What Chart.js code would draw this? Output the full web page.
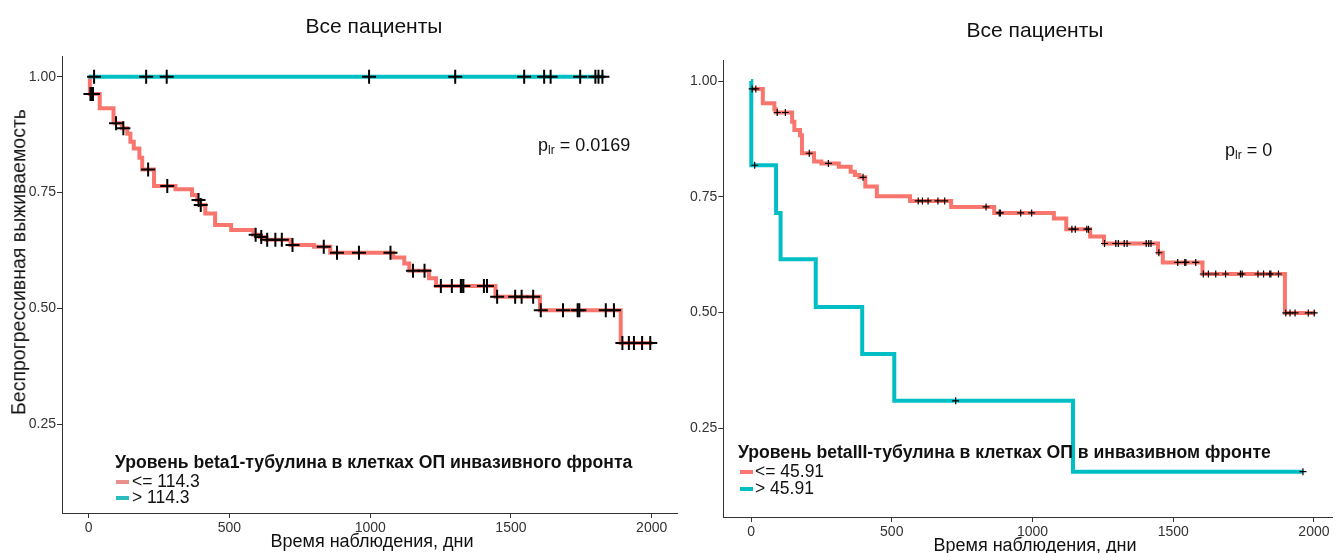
<!DOCTYPE html>
<html>
<head>
<meta charset="utf-8">
<script src="https://cdn.jsdelivr.net/npm/chart.js@4.4.0/dist/chart.umd.min.js"></script>
<style>
body { margin: 0; width: 1338px; height: 553px; overflow: hidden; position: relative; background: #fff;
       font-family: "Liberation Sans", Arial, sans-serif; color: #111; }
canvas { position: absolute; top: 0; }
#left { left: 0; }
#right { left: 686px; }
.t { position: absolute; white-space: nowrap; line-height: 1; }
.title { font-size: 21px; transform: translate(-50%, -50%); }
.xlab { font-size: 18px; transform: translate(-50%, -50%); }
.ylab { font-size: 19.5px; transform: translate(-50%, -50%) rotate(-90deg); }
.pval { font-size: 18px; transform: translateY(-50%); }
.pval sub { font-size: 12px; vertical-align: -3px; }
.lgt { font-size: 17.6px; font-weight: bold; transform: translateY(-50%); }
.lge { font-size: 17.5px; transform: translateY(-50%); }
.key { position: absolute; width: 13px; height: 4px; }
</style>
</head>
<body>
<canvas id="left" width="686" height="553"></canvas>
<canvas id="right" width="652" height="553"></canvas>

<div class="t title" style="left:374px;top:25px">Все пациенты</div>
<div class="t title" style="left:1035px;top:29px">Все пациенты</div>
<div class="t ylab" style="left:19px;top:262px">Беспрогрессивная выживаемость</div>
<div class="t xlab" style="left:372px;top:541px">Время наблюдения, дни</div>
<div class="t xlab" style="left:1035px;top:545px">Время наблюдения, дни</div>
<div class="t pval" style="left:538px;top:146px">p<sub>lr</sub> = 0.0169</div>
<div class="t pval" style="left:1225px;top:151px">p<sub>lr</sub> = 0</div>

<div class="t lgt" style="left:115px;top:463px">Уровень beta1-тубулина в клетках ОП инвазивного фронта</div>
<div class="key" style="left:116px;top:480px;background:#e8908b"></div>
<div class="t lge" style="left:132px;top:482px">&lt;= 114.3</div>
<div class="key" style="left:116px;top:496px;background:#2bbcc0"></div>
<div class="t lge" style="left:132px;top:498px">&gt; 114.3</div>

<div class="t lgt" style="left:738px;top:453px">Уровень betaIII-тубулина в клетках ОП в инвазивном фронте</div>
<div class="key" style="left:740px;top:470px;background:#F8766D"></div>
<div class="t lge" style="left:755px;top:472px">&lt;= 45.91</div>
<div class="key" style="left:740px;top:487px;background:#00BFC4"></div>
<div class="t lge" style="left:755px;top:489px">&gt; 45.91</div>

<script>
// x ticks, y ticks
const xTicks = [0, 500, 1000, 1500, 2000];
const yTicks = [0.25, 0.50, 0.75, 1.00];

// LEFT: beta1-tubulin, steps are [day, survival after that day]
const b1LowSteps = [[0, 1.0], [4, 0.963], [39, 0.932], [88, 0.907], [92, 0.90], [118, 0.889],
  [137, 0.877], [148, 0.86], [160, 0.845], [180, 0.825], [190, 0.80], [232, 0.764], [308, 0.757],
  [367, 0.745], [385, 0.734], [396, 0.723], [414, 0.705], [449, 0.68], [506, 0.669], [585, 0.659],
  [608, 0.654], [630, 0.648], [717, 0.637], [800, 0.633], [858, 0.62], [1082, 0.61], [1121, 0.597],
  [1139, 0.581], [1209, 0.565], [1234, 0.548], [1445, 0.525], [1603, 0.496], [1890, 0.425]];
const b1LowEnd = 2003;
const b1LowCensor = [6, 9, 12, 15, 97, 123, 211, 279, 390, 398, 593, 613, 634, 663, 686, 724, 835,
  882, 960, 1072, 1152, 1193, 1251, 1290, 1322, 1325, 1331, 1404, 1415, 1451, 1515, 1538, 1579,
  1606, 1685, 1737, 1743, 1837, 1866, 1896, 1919, 1937, 1966, 1995];

const b1HighSteps = [[0, 1.0]];
const b1HighEnd = 1831;
const b1HighCensor = [19, 204, 277, 996, 1302, 1547, 1618, 1641, 1746, 1800, 1811, 1825];

// RIGHT: betaIII-tubulin
const b3LowSteps = [[0, 0.983], [42, 0.952], [83, 0.939], [88, 0.932], [146, 0.912], [154, 0.894],
  [174, 0.883], [181, 0.844], [224, 0.826], [250, 0.822], [312, 0.815], [354, 0.804], [369, 0.797],
  [385, 0.792], [406, 0.772], [447, 0.751], [565, 0.741], [711, 0.728], [864, 0.715], [1076, 0.703],
  [1120, 0.68], [1205, 0.664], [1254, 0.649], [1446, 0.629], [1463, 0.608], [1604, 0.583],
  [1897, 0.499]];
const b3LowEnd = 2005;
const b3LowCensor = [4, 17, 93, 122, 207, 275, 398, 594, 609, 629, 664, 688, 835, 882, 886, 958,
  997, 1140, 1152, 1193, 1199, 1256, 1296, 1305, 1326, 1336, 1404, 1413, 1421, 1449, 1516, 1541,
  1545, 1580, 1607, 1625, 1651, 1686, 1739, 1745, 1801, 1821, 1843, 1847, 1874, 1900, 1915, 1933,
  1980, 2001];

const b3HighSteps = [[0, 1.0], [1, 0.818], [89, 0.715], [105, 0.615], [230, 0.512], [395, 0.41],
  [509, 0.309], [1144, 0.156]];
const b3HighEnd = 1961;
const b3HighCensor = [13, 727, 1961];

const RED = "#F8766D";
const CYAN = "#00BFC4";
const FONT = "'Liberation Sans', Arial, sans-serif";

function survAt(steps, t) {
    let s = steps[0][1];
    for (const [d, v] of steps) if (d <= t) s = v;
    return s;
}

function curve(steps, end, color) {
    const pts = steps.map(([d, v]) => ({ x: d, y: v }));
    pts.push({ x: end, y: steps[steps.length - 1][1] });
    return {
        type: "line", data: pts, stepped: true, borderColor: color, borderWidth: 4,
        borderJoinStyle: "miter", borderCapStyle: "butt", pointRadius: 0, fill: false, order: 2
    };
}

function marks(steps, times, r, w) {
    return {
        type: "scatter", data: times.map(t => ({ x: t, y: survAt(steps, t) })),
        pointStyle: "cross", pointRadius: r, pointBorderColor: "#000", pointBorderWidth: w,
        pointBackgroundColor: "#000", order: 0
    };
}

function axes(xMin, xMax, yW, xH) {
    const grid = { drawOnChartArea: false, color: "#333", tickLength: 5, tickWidth: 1 };
    const border = { display: true, color: "#333", width: 1 };
    return {
        x: {
            type: "linear", min: xMin, max: xMax, grid, border,
            afterBuildTicks: s => { s.ticks = xTicks.map(v => ({ value: v })); },
            afterFit: s => { s.height = xH; },
            ticks: { font: { family: FONT, size: 14 }, color: "#333", padding: 2, maxRotation: 0,
                     callback: v => String(v) }
        },
        y: {
            type: "linear", min: 0.058, max: 1.045, grid, border,
            afterBuildTicks: s => { s.ticks = yTicks.map(v => ({ value: v })); },
            afterFit: s => { s.width = yW; },
            ticks: { font: { family: FONT, size: 14 }, color: "#333", padding: 1,
                     callback: v => v.toFixed(2) }
        }
    };
}

function opts(xMin, xMax, yW, xH, pad) {
    return {
        responsive: false, animation: false, events: [],
        layout: { padding: pad },
        plugins: { legend: { display: false }, tooltip: { enabled: false } },
        scales: axes(xMin, xMax, yW, xH)
    };
}

new Chart(document.getElementById("left"), {
    type: "line",
    data: {
        datasets: [
            marks(b1LowSteps, b1LowCensor, 7, 2),
            marks(b1HighSteps, b1HighCensor, 7, 2),
            curve(b1HighSteps, b1HighEnd, CYAN),
            curve(b1LowSteps, b1LowEnd, RED)
        ]
    },
    options: opts(-95, 2090, 62, 40, { left: 0, top: 56, right: 2.4, bottom: 0 })
});

new Chart(document.getElementById("right"), {
    type: "line",
    data: {
        datasets: [
            marks(b3LowSteps, b3LowCensor, 3.5, 1.2),
            marks(b3HighSteps, b3HighCensor, 3.5, 1.2),
            curve(b3HighSteps, b3HighEnd, CYAN),
            curve(b3LowSteps, b3LowEnd, RED)
        ]
    },
    options: opts(-98.5, 2067, 37.3, 36, { left: 0, top: 60.2, right: 0, bottom: 0 })
});
</script>
</body>
</html>
